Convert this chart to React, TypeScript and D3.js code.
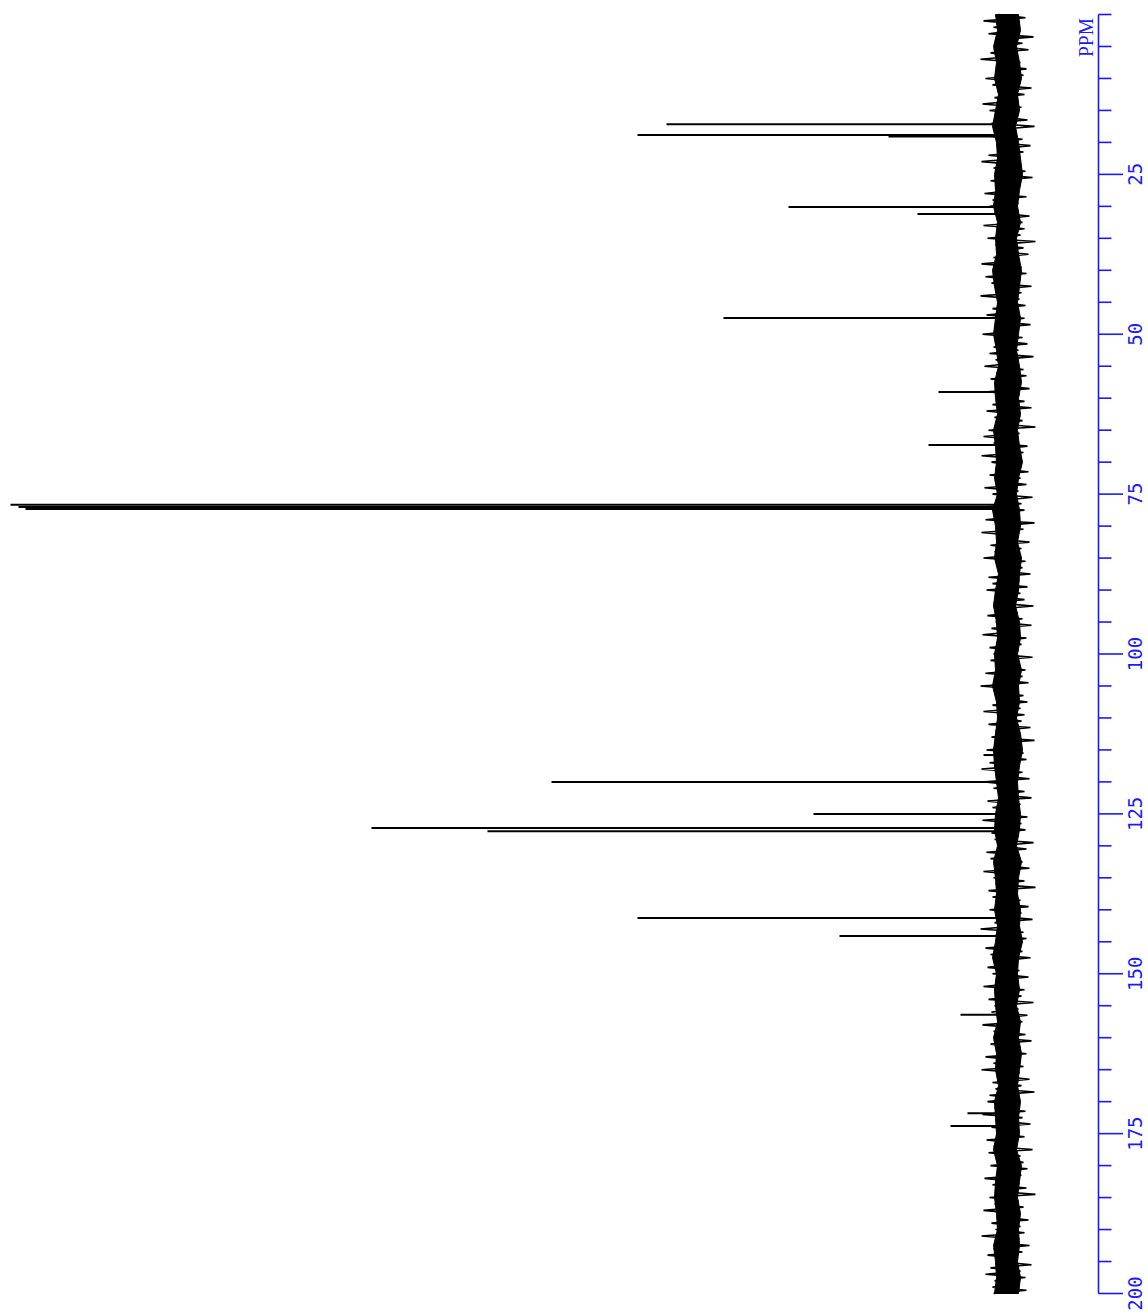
import React from "react";
import * as d3 from "d3";

// Peak list: chemical shift (ppm) and peak height (intensity units)
const peakPpm = [17.17, 18.84, 19.08, 30.1, 31.2, 47.46, 59.03, 67.32, 76.68, 77.02, 77.34, 115.8, 120.0, 125.0, 127.2, 127.7, 141.3, 144.1, 156.4, 171.8, 173.8];
const peakHeight = [341, 370, 119, 219, 90, 284, 69, 79, 997, 989, 982, 24, 456, 194, 636, 520, 370, 168, 47, 40, 57];

// Axis ticks (ppm)
const tickValues = d3.range(0, 201, 5);
const tickLabels = ["25", "50", "75", "100", "125", "150", "175", "200"];
const axisTitle = "PPM";

// Noise band core envelope (evenly spaced over 0–200 ppm), intensity units
const bandLo = [-11, -13, -9, -12, -14, -10, -12, -8, -11, -13, -15, -12, -10, -13, -9, -11, -14, -12, -10, -13, -11, -9, -12, -14, -11, -13, -10, -12, -15, -11, -9, -12, -13, -10, -14, -12, -11, -8, -12, -13, -10, -14, -11, -12, -9, -13, -15, -12, -10, -11, -13, -12, -9, -14, -11, -10, -13, -12, -15, -11, -10, -12, -9, -13, -11, -14, -12, -10, -13, -11, -12, -9, -14, -12, -10, -13, -11, -12, -10, -13, -11];
const bandHi = [12, 10, 14, 11, 13, 9, 12, 15, 11, 10, 13, 12, 14, 10, 12, 11, 15, 13, 10, 12, 14, 11, 9, 13, 12, 10, 14, 12, 11, 13, 10, 15, 12, 11, 13, 9, 12, 14, 11, 10, 13, 12, 15, 11, 10, 12, 14, 13, 11, 9, 12, 13, 10, 14, 12, 11, 13, 10, 12, 15, 11, 13, 12, 10, 14, 11, 12, 9, 13, 12, 11, 14, 10, 12, 13, 11, 10, 14, 12, 11, 13];

// Noise trace (evenly spaced over 0–200 ppm), intensity units
const noise = [
  9, -18, 24, -11, 14, -7, 19, -26, 12, -15, 8, -21, 17, -10, 27, -13, 11, -19, 6, -16,
  22, -12, 15, -24, 10, -17, 13, -8, 25, -14, 18, -11, 7, -20, 16, -27, 12, -9, 21, -15,
  11, -23, 8, -16, 19, -12, 26, -10, 14, -18, 9, -25, 17, -13, 12, -7, 23, -19, 15, -11,
  18, -9, 13, -22, 7, -15, 24, -17, 10, -13, 20, -28, 12, -16, 9, -21, 14, -11, 26, -14,
  13, -19, 22, -8, 16, -24, 11, -14, 27, -12, 8, -18, 15, -10, 21, -17, 10, -23, 13, -9,
  25, -15, 9, -20, 14, -11, 18, -26, 12, -7, 23, -16, 11, -19, 17, -13, 8, -22, 20, -12,
  10, -17, 15, -24, 21, -10, 13, -15, 8, -28, 19, -12, 24, -9, 14, -20, 11, -16, 26, -14,
  16, -8, 12, -21, 18, -13, 9, -19, 23, -11, 15, -25, 7, -14, 20, -17, 13, -10, 22, -27,
  12, -16, 26, -11, 10, -22, 17, -14, 13, -9, 24, -18, 11, -15, 8, -23, 19, -12, 15, -20,
  21, -13, 8, -17, 14, -26, 11, -10, 20, -15, 12, -24, 16, -8, 25, -19, 9, -14, 18, -11,
  14, -25, 17, -12, 9, -18, 22, -15, 11, -21, 27, -10, 13, -16, 7, -20, 15, -13, 24, -17,
  10, -14, 19, -23, 12, -9, 16, -27, 13, -11, 21, -16, 8, -19, 18, -12, 26, -15, 11, -22,
  23, -10, 14, -17, 9, -24, 20, -13, 15, -8, 12, -20, 25, -14, 10, -18, 16, -11, 13, -26,
  8, -19, 21, -12, 17, -15, 11, -22, 24, -9, 14, -17, 12, -28, 19, -10, 15, -13, 9, -21,
  18, -14, 10, -25, 13, -11, 27, -16, 12, -19, 8, -13, 22, -15, 17, -23, 11, -9, 20, -12,
  15, -21, 12, -8, 24, -17, 9, -14, 19, -26, 13, -11, 16, -20, 10, -15, 25, -12, 14, -18,
  11, -24, 17, -13, 8, -19, 22, -10, 14, -16, 26, -12, 9, -22, 15, -14, 12, -27, 18, -9,
  20, -11, 13, -18, 25, -15, 10, -23, 16, -12, 11, -17, 21, -9, 14, -25, 19, -13, 8, -16,
  17, -20, 9, -14, 23, -10, 15, -19, 12, -28, 18, -11, 13, -16, 24, -8, 10, -21, 16, -13,
  12, -17, 26, -12, 11, -22, 14, -15, 20, -10, 9, -24, 17, -13, 22, -18, 13, -11, 15, -19,
  14,
];

const W = 1148;
const H = 1316;
const BLUE = "#1a1aff";

export default function App() {
  const y = d3.scaleLinear().domain([0, 200]).range([14.5, 1293.5]);
  const x = d3.scaleLinear().domain([0, 1000]).range([1007.5, 7.5]);

  const nStep = 200 / (noise.length - 1);
  const traceData = noise.map((v, i) => ({ ppm: i * nStep, v }));
  const trace = d3
    .line<{ ppm: number; v: number }>()
    .x((d) => x(d.v))
    .y((d) => y(d.ppm))(traceData) as string;

  const bStep = 200 / (bandLo.length - 1);
  const bandData = bandLo.map((lo, i) => ({ ppm: i * bStep, lo, hi: bandHi[i] }));
  const band = d3
    .area<{ ppm: number; lo: number; hi: number }>()
    .y((d) => y(d.ppm))
    .x0((d) => x(d.lo))
    .x1((d) => x(d.hi))(bandData) as string;

  const axisX = 1098.5;
  const labelMap = new Map<number, string>();
  tickLabels.forEach((t) => labelMap.set(+t, t));

  return (
    <svg
      width={W}
      height={H}
      style={{ position: "absolute", left: 0, top: 0, background: "#fff" }}
    >
      <rect x={0} y={0} width={W} height={H} fill="#fff" />
      <g>
        <path d={band} fill="#000" stroke="#000" strokeWidth={1} />
        <path d={trace} fill="none" stroke="#000" strokeWidth={1.6} strokeLinejoin="miter" strokeMiterlimit={2} />
        {peakPpm.map((p, i) => (
          <line
            key={i}
            x1={x(0)}
            x2={x(peakHeight[i])}
            y1={y(p)}
            y2={y(p)}
            stroke="#000"
            strokeWidth={2}
          />
        ))}
      </g>
      <g stroke={BLUE} fill="none">
        <line x1={axisX} x2={axisX} y1={y(0)} y2={y(200)} strokeWidth={1.6} />
        {tickValues.map((t) => {
          const major = labelMap.has(t);
          return (
            <line
              key={t}
              x1={axisX}
              x2={axisX + (major ? 24.5 : 13)}
              y1={y(t)}
              y2={y(t)}
              strokeWidth={1.6}
            />
          );
        })}
      </g>
      <g fill={BLUE}>
        {tickValues
          .filter((t) => labelMap.has(t))
          .map((t) => (
            <text
              key={t}
              transform={`translate(${1142},${y(t)}) rotate(-90)`}
              textAnchor="middle"
              fontFamily="DejaVu Sans Mono"
              fontSize={19}
            >
              {labelMap.get(t)}
            </text>
          ))}
        <text
          transform={`translate(${1093},${37.5}) rotate(-90)`}
          textAnchor="middle"
          fontFamily="Liberation Serif"
          fontSize={20}
          textLength={39}
          lengthAdjust="spacingAndGlyphs"
        >
          {axisTitle}
        </text>
      </g>
    </svg>
  );
}
